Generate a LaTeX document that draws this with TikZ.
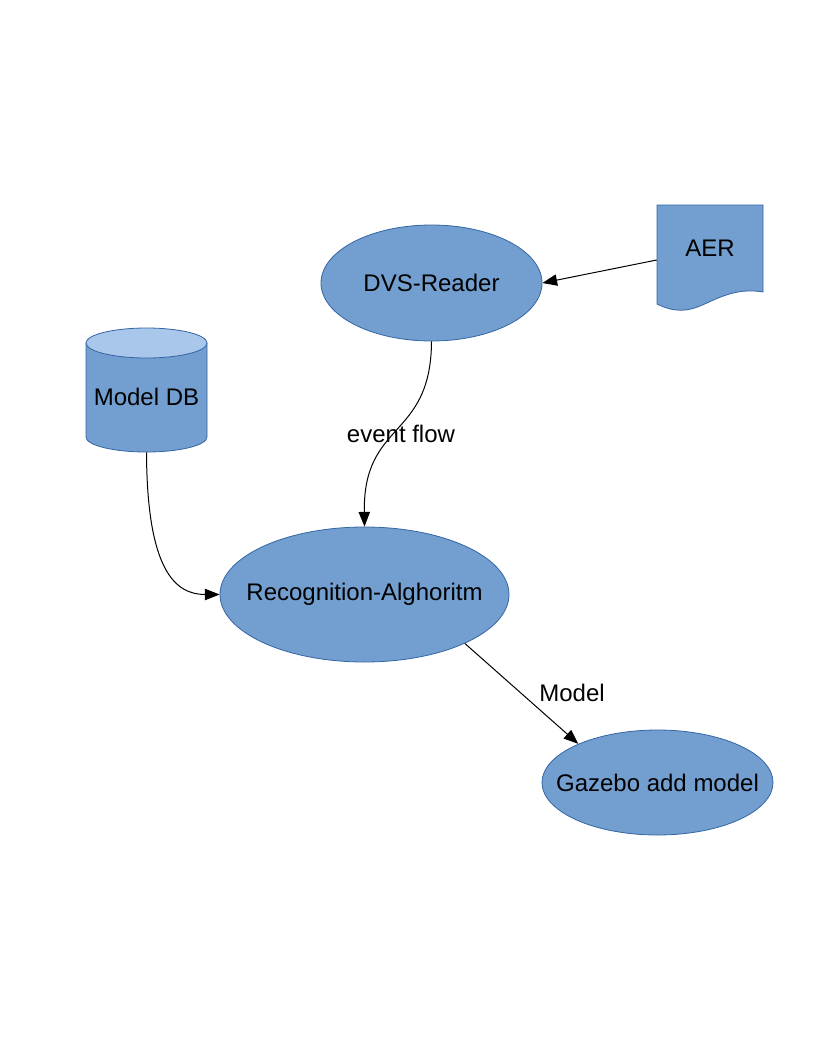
\documentclass[tikz,border=0pt]{standalone}
\usepackage{fontspec}
\setmainfont{Liberation Sans}
\usetikzlibrary{shapes.geometric,arrows.meta}
\definecolor{shapefill}{HTML}{729FCF}
\definecolor{shapeline}{HTML}{3465A4}
\definecolor{shapetop}{HTML}{A9C6EB}
\tikzset{
  ell/.style={ellipse,draw=shapeline,line width=0.6pt,fill=shapefill,inner sep=0pt},
  lbl/.style={inner sep=0pt,font=\fontsize{18}{21.6}\selectfont},
  conn/.style={draw=black,line width=0.75pt,-{Triangle[length=11pt,width=8.5pt]}},
}
\begin{document}
\begin{tikzpicture}[x=0.75pt,y=-0.75pt]
\useasboundingbox (0,0) rectangle (816,1056);
% ellipses
\node[ell,minimum width=165.75pt,minimum height=87pt,label={[lbl,name=dvst]center:DVS-Reader}] (dvs) at (431.5,283) {};
\node[ell,minimum width=216.75pt,minimum height=101.25pt,label={[lbl,name=rect]center:Recognition-Alghoritm}] (rec) at (364.5,594.5) {};
\node[ell,minimum width=173.25pt,minimum height=78.75pt,label={[lbl,name=gazt]center:Gazebo add model}] (gaz) at (657.5,782.5) {};
% cylinder
\filldraw[fill=shapefill,draw=shapeline,line width=0.6pt] (86,343) -- (86,437)
  arc[start angle=180,end angle=360,x radius=45.375pt,y radius=11.25pt] -- (207,343) -- cycle;
\filldraw[fill=shapetop,draw=shapeline,line width=0.6pt] (146.5,343) ellipse[x radius=45.375pt,y radius=11.25pt];
\node[lbl,minimum height=82.5pt] (db) at (146.5,397) {Model DB};
% document
\filldraw[fill=shapefill,draw=shapeline,line width=0.6pt] (657,205) -- (763,205) -- (763,292)
  .. controls (735,287) and (715,300) .. (700,306)
  .. controls (688,311) and (675,313) .. (657,304) -- cycle;
\node[lbl,minimum width=79.5pt] (aer) at (710,248) {AER};
% connectors
\draw[conn] ([yshift=-9pt]aer.west) -- (dvs.east);
\draw[conn] (dvs.south) .. controls (431,440) and (363,420) .. (rec.north);
\node[lbl] (ef) at (401,434) {event flow};
\draw[conn] (db.south) .. controls (147,570) and (175,594.5) .. (rec.west);
\draw[conn] (rec.-26) -- (gaz.154);
\node[lbl] (ml) at (572,693) {Model};
\end{tikzpicture}
\end{document}
